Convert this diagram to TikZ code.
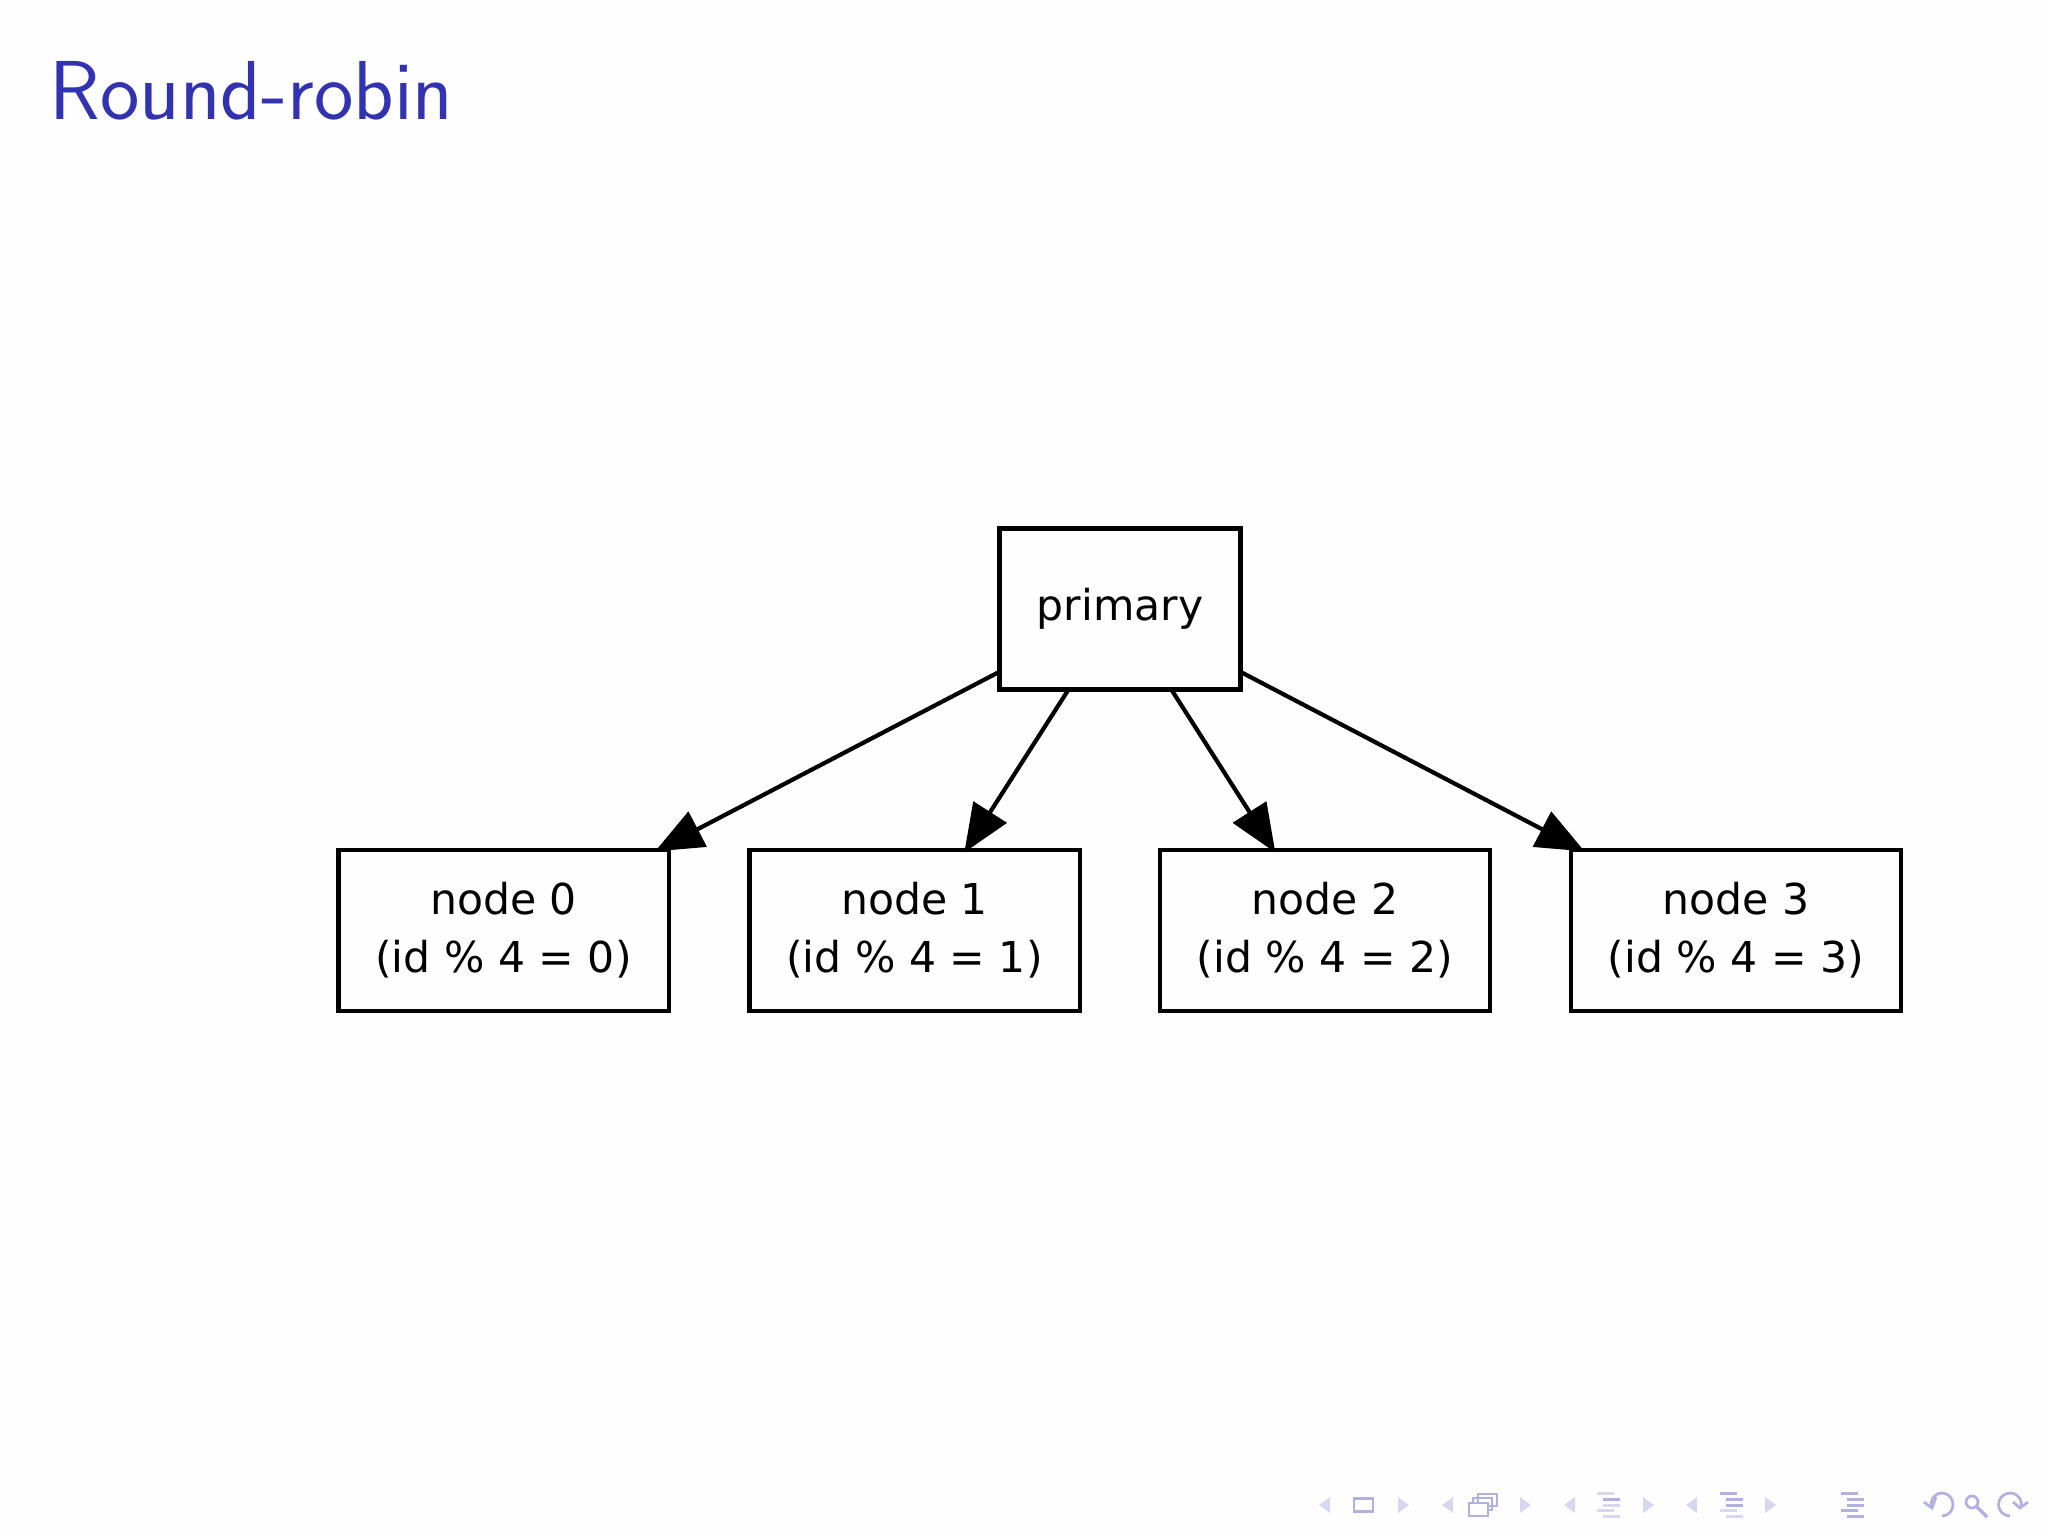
\documentclass[tikz,border=0pt]{standalone}
\usepackage{fontspec}
\setmainfont{DejaVu Sans}
\usetikzlibrary{arrows.meta}
\definecolor{titleblue}{RGB}{51,51,178}
\definecolor{navdark}{RGB}{178,176,224}
\definecolor{navlight}{RGB}{216,215,240}
\definecolor{pagebg}{RGB}{254,254,254}
\tikzset{
	box/.style={draw,line width=0.042cm,minimum width=3.3cm,minimum height=1.61cm,outer sep=0pt,align=center,font=\fontsize{12.1}{16.5}\selectfont},
	edge/.style={line width=0.042cm,shorten >=-0.03cm,-{Triangle[length=0.48cm,width=0.39cm]}},
	navtri/.style={fill=navlight},
	navline/.style={navdark,line width=0.027cm}
}
\begin{document}
\begin{tikzpicture}[x=0.01cm,y=-0.01cm]
		\useasboundingbox (0,0) rectangle (2048,1536);
		\fill[pagebg] (0,0) rectangle (2048,1536);

		\node[anchor=base west,inner sep=0pt,text=titleblue,font=\fontsize{23.8}{28}\selectfont\sffamily] (title) at (49,119) {Round-robin};

		\node[box,minimum width=2.41cm] (primary) at (1120,609) {primary};
		\foreach \i/\x in {0/503.5,1/914.5,2/1325,3/1736}
			\node[box] (node\i) at (\x,930.5) {node \i\\(id \% 4 = \i)};
		\foreach \i in {0,...,3}
			\draw[edge] (primary) -- (node\i);

		% navigation bar
		\foreach \x in {1330,1453,1575,1697}
			\fill[navtri] (\x,1497) -- (\x,1513) -- (\x-11,1505) -- cycle;
		\foreach \x in {1398,1520,1643,1765}
			\fill[navtri] (\x,1497) -- (\x,1513) -- (\x+11,1505) -- cycle;
		\draw[navline] (1354,1498.5) rectangle (1373,1511.5);
		\draw[navline] (1478,1494) rectangle (1497,1506);
		\draw[navline] (1473,1498) rectangle (1492,1510);
		\fill[pagebg] (1469,1503) rectangle (1488,1516);
		\draw[navline] (1469,1503) rectangle (1488,1516);
		\foreach \x/\c/\d/\e/\f/\g in {1597/navlight/navdark/navlight/navlight/navlight,
			1720/navdark/navdark/navdark/navlight/navlight,
			1841/navdark/navdark/navdark/navdark/navdark}{
			\fill[\c] (\x,1491.5) rectangle ++(17,3);
			\fill[\d] (\x+6,1497.5) rectangle ++(17,3);
			\fill[\e] (\x+6,1503.5) rectangle ++(17,3);
			\fill[\f] (\x,1509) rectangle ++(17,3);
			\fill[\g] (\x+6,1515) rectangle ++(17,3);
		}
		\draw[navline] (1942,1516) arc (90:-190:11 and 11.5);
		\draw[navline] (1924,1502) -- (1932,1508) -- (1936,1497);
		\draw[navline] (1972,1502) circle (6);
		\draw[navline,line width=0.035cm] (1977,1507) -- (1987,1517);
		\draw[navline] (2010,1516) arc (90:370:11.5 and 11.5);
		\draw[navline] (2013,1502) -- (2020,1508) -- (2028,1502);
\end{tikzpicture}
\end{document}
